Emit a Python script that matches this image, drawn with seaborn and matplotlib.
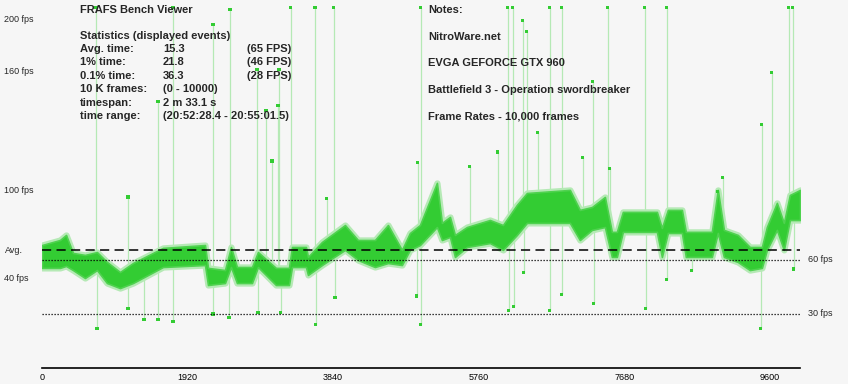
"""
FRAFS Bench Viewer style frame-rate plot (Battlefield 3, GTX 960)
"""

import numpy as np
import matplotlib
matplotlib.use("Agg")
import matplotlib.pyplot as plt
import seaborn as sns

# frame-rate band (dense cloud of samples)
band_frame = [0, 237, 317, 409, 567, 725, 857, 1029, 1200, 1596, 2150, 2190, 2414,
              2493, 2572, 2770, 2849, 3086, 3258, 3298, 3482, 3509, 3693, 3997, 4168,
              4392, 4564, 4748, 4854, 4986, 5210, 5276, 5382, 5448, 5606, 5909, 6081,
              6265, 6397, 6964, 7096, 7255, 7426, 7518, 7584, 7663, 8112, 8178, 8257,
              8442, 8494, 8837, 8916, 8996, 9180, 9339, 9497, 9563, 9695, 9787, 9866,
              10000]
band_hi = [68.3, 71.1, 73.9, 63.9, 62.8, 64.4, 58.9, 53.3, 58.3, 66.7, 68.3, 55.6, 54.4,
           67.2, 56.1, 56.1, 64.4, 55.6, 55.6, 67.2, 67.2, 61.7, 70.0, 79.4, 71.1,
           71.1, 79.4, 65.6, 75.0, 79.4, 102.8, 80.6, 83.9, 73.9, 78.3, 82.2, 79.4,
           90.6, 97.2, 98.9, 87.8, 89.4, 95.0, 75.6, 75.6, 86.7, 86.7, 77.8, 87.8,
           87.8, 75.6, 75.6, 98.9, 76.7, 73.9, 67.2, 67.2, 78.3, 91.7, 80.6, 96.1,
           98.9]
band_lo = [55.6, 55.6, 56.7, 54.4, 50.0, 54.4, 47.2, 44.4, 47.2, 56.1, 57.2, 46.1, 47.2,
           56.1, 47.2, 47.2, 56.1, 46.1, 46.1, 56.1, 56.1, 51.7, 57.2, 65.6, 60.0,
           56.1, 58.3, 57.2, 65.6, 68.3, 78.3, 71.1, 72.8, 61.7, 67.2, 69.4, 65.6,
           73.9, 80.6, 80.6, 71.1, 76.7, 78.3, 61.7, 61.7, 75.6, 75.6, 61.7, 75.0,
           75.0, 61.7, 61.7, 75.0, 61.7, 58.9, 54.4, 55.6, 65.6, 76.7, 65.6, 82.2,
           82.2]

# single-frame spikes
spike_up_frame = [712, 1134, 1530, 1728, 2256, 2480, 2836, 2955, 3034, 3113, 3126, 3284,
                  3601, 3759, 3851, 4959, 4999, 5645, 6015, 6147, 6212, 6344, 6397, 6542,
                  6701, 6859, 7136, 7268, 7466, 7492, 7954, 8244, 8916, 8982, 9497, 9629,
                  9853, 9906]
spike_up_fps = [200, 95, 148, 200, 191, 199, 166, 143, 115, 146, 166, 200,
                200, 94, 200, 114, 200, 112, 120, 200, 200, 193, 187, 131,
                200, 200, 117, 159, 200, 111, 200, 200, 98, 106, 135, 164,
                200, 200]
spike_down_frame = [725, 1134, 1345, 1530, 1728, 2256, 2467, 2849, 3152, 3614, 3865, 4946,
                    4999, 6160, 6225, 6357, 6701, 6859, 7281, 7967, 8244, 8574, 9484, 9919]
spike_down_fps = [22, 33, 27, 27, 26, 30, 28, 31, 31, 24, 39, 40,
                  24, 32, 34, 53, 32, 41, 36, 33, 49, 54, 22, 55]

avg_fps = 65.4
ref_lines = [60, 30]
x_ticks = [0, 1920, 3840, 5760, 7680, 9600]
y_tick_pos = [194.4, 165.0, 98.9, 65.6, 50.0]
y_tick_labels = ["200 fps", "160 fps", "100 fps", "Avg.", "40 fps"]

stat_names = ["Avg. time:", "1% time:", "0.1% time:", "10 K frames:", "timespan:", "time range:"]
stat_values = ["15.3", "21.8", "36.3", "(0 - 10000)", "2 m 33.1 s", "(20:52:28.4 - 20:55:01.5)"]
stat_fps = ["(65 FPS)", "(46 FPS)", "(28 FPS)", "", "", ""]
notes = ["NitroWare.net", "EVGA GEFORCE GTX 960",
         "Battlefield 3 - Operation swordbreaker", "Frame Rates - 10,000 frames"]

GREEN = "#33cc33"
LIGHT = "#b5e9b5"

sns.set_theme(style="white")
plt.rcParams["font.family"] = ["Liberation Sans", "DejaVu Sans"]

W, H = 848, 384
fig = plt.figure(figsize=(W / 100, H / 100), dpi=100)
fig.patch.set_facecolor("#f6f6f6")
ax = fig.add_axes([42 / W, 16 / H, 758 / W, 368 / H])
ax.set_facecolor("none")
ax.set_xlim(0, 10000)
ax.set_ylim(0, 204.4)

# spikes: light lines from band edge, dot at the tip
up_base = np.interp(spike_up_frame, band_frame, band_hi)
down_base = np.interp(spike_down_frame, band_frame, band_lo)
ax.vlines(spike_up_frame, up_base, spike_up_fps, color=LIGHT, lw=0.9, zorder=2)
ax.vlines(spike_down_frame, spike_down_fps, down_base, color=LIGHT, lw=0.9, zorder=2)

# soft fringe around the sample cloud, then the dense core
ax.fill_between(band_frame, band_lo, band_hi, facecolor=LIGHT, edgecolor=LIGHT,
                lw=4.5, zorder=2.5)
ax.fill_between(band_frame, band_lo, band_hi, color=GREEN, lw=1.2,
                edgecolor="#4fd24f", zorder=3)

sns.scatterplot(x=spike_up_frame + spike_down_frame, y=spike_up_fps + spike_down_fps,
                marker="s", s=5, color=GREEN, edgecolor="none", ax=ax, zorder=4)

ax.hlines(avg_fps, 0, 10000, color="black", lw=1.1, linestyle=(0, (6, 3.5)), zorder=5)
ax.hlines(ref_lines, 0, 10000, color="black", lw=0.9, linestyle=(0, (1, 1.4)), zorder=5)
for v in ref_lines:
    ax.text(10100, v, f"{v} fps", fontsize=6.5, va="center", ha="left", clip_on=False)

for s in ["left", "top", "right"]:
    ax.spines[s].set_visible(False)
ax.spines["bottom"].set_color("black")
ax.spines["bottom"].set_linewidth(1.2)

ax.set_xticks(x_ticks)
ax.set_xticklabels([str(t) for t in x_ticks])
ax.tick_params(axis="x", direction="in", length=3, width=0.8, labelsize=6.5,
               pad=3.5, colors="black")
ax.set_yticks(y_tick_pos)
ax.set_yticklabels(y_tick_labels)
ax.tick_params(axis="y", length=0, labelsize=6.5, pad=27)
for lbl in ax.get_yticklabels():
    lbl.set_horizontalalignment("left")
ax.set_xlabel("")
ax.set_ylabel("")


def put(x, y, s):
    fig.text(x / W, 1 - y / H, s, fontsize=8, fontweight="bold", va="center", ha="left")


put(80, 10, "FRAFS Bench Viewer")
put(80, 36, "Statistics (displayed events)")
for i in range(len(stat_names)):
    y = 49 + i * 13.4
    put(80, y, stat_names[i])
    put(163, y, stat_values[i])
    if stat_fps[i]:
        put(247, y, stat_fps[i])

put(428, 10, "Notes:")
for i, n in enumerate(notes):
    put(428, 37 + i * 26.5, n)

fig.savefig("out.png", dpi=100, facecolor=fig.get_facecolor())
